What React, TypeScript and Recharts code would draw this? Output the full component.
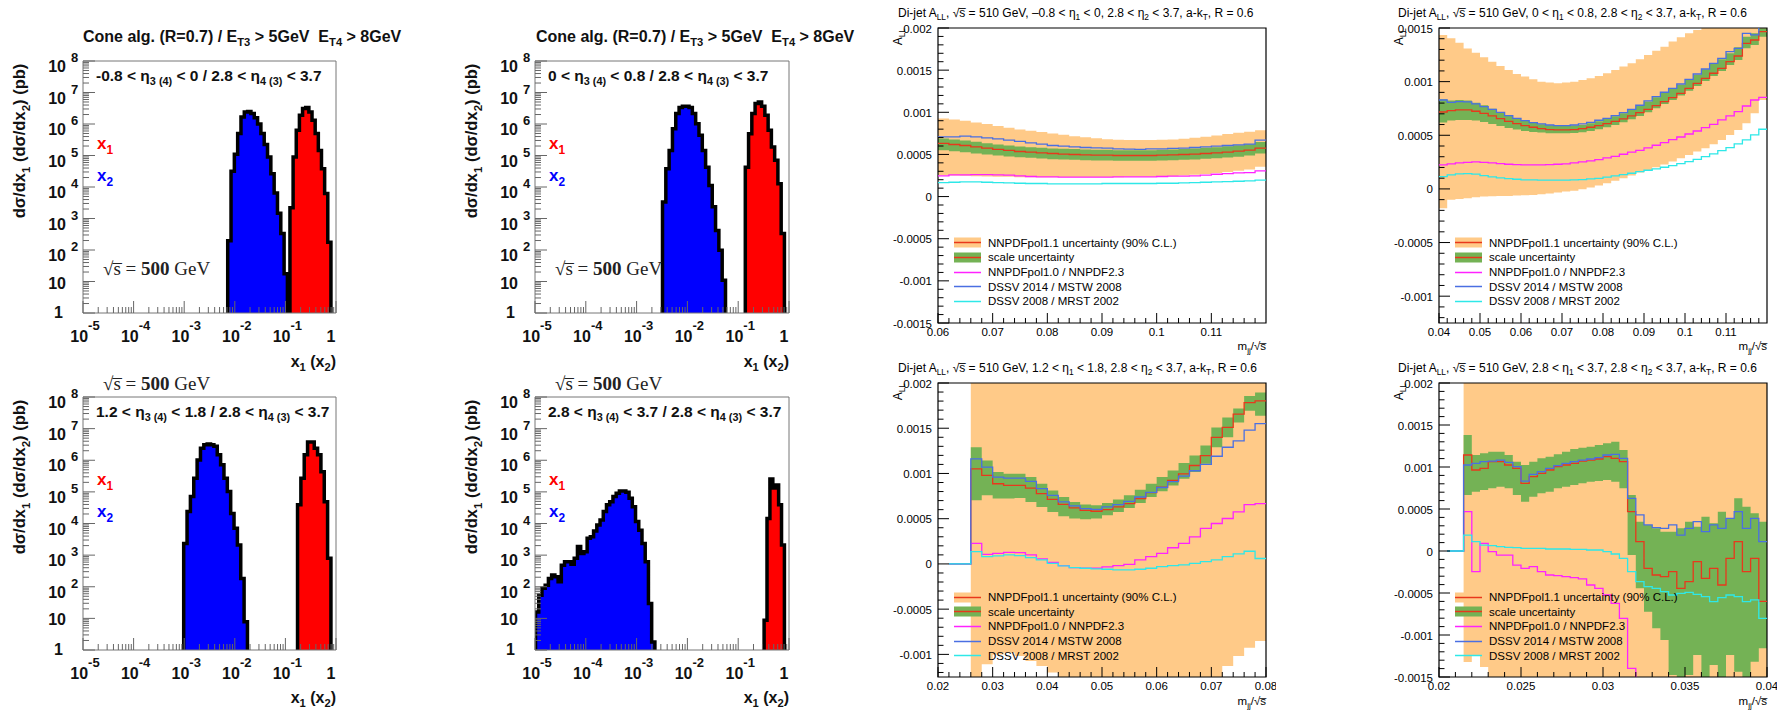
import React from "react";
import { ComposedChart, Area, Line, XAxis, YAxis, ReferenceArea, Legend } from "recharts";

const SANS = "'Liberation Sans', Arial, Helvetica, sans-serif";
const SERIF = "'Liberation Serif', 'DejaVu Serif', serif";

const ORANGE = "#ffca88";
const GREEN = "#74b255";
const RED = "#e8381c";
const MAGENTA = "#ff22ff";
const BLUE = "#4a6fe2";
const CYAN = "#2ee8e8";

// ---- x1 / x2 distributions: log10(x) edges, log10(dsigma/dx [pb]) per bin ----
const p1BlueEdges = [-2.14, -0.96];
const p1Blue = [2.29, 4.5, 5.04, 5.7, 6.22, 6.38, 6.4, 6.33, 6.2, 6.0, 5.7, 5.35, 4.95, 4.42, 3.81, 3.17, 2.52, 1.25];
const p1RedEdges = [-0.91, -0.1];
const p1Red = [3.34, 4.95, 5.8, 6.28, 6.49, 6.52, 6.38, 6.12, 5.7, 5.16, 4.58, 3.79, 2.25];

const p2BlueEdges = [-2.49, -1.25];
const p2Blue = [3.52, 4.58, 5.16, 5.85, 6.33, 6.52, 6.56, 6.56, 6.52, 6.33, 6.01, 5.64, 5.16, 4.63, 4.05, 3.37, 2.62, 1.99, 1.04];
const p2RedEdges = [-0.86, -0.09];
const p2Red = [4.63, 5.69, 6.33, 6.65, 6.7, 6.56, 6.28, 5.8, 5.27, 4.85, 4.1, 2.52];

const p3BlueEdges = [-3.01, -1.75];
const p3Blue = [3.37, 4.38, 4.85, 5.43, 6.01, 6.38, 6.49, 6.51, 6.49, 6.44, 6.17, 5.86, 5.43, 5.01, 4.32, 3.85, 3.32, 2.26, 0.89];
const p3RedEdges = [-0.76, -0.1];
const p3Red = [4.59, 5.43, 6.17, 6.58, 6.58, 6.38, 6.17, 5.64, 4.69, 2.9];

const p4BlueEdges = [-4.99, -2.64];
const p4Blue = [1.2, 1.73, 1.95, 2.05, 2.26, 2.37, 2.32, 2.16, 2.68, 2.79, 2.79, 2.71, 2.9, 3.27, 3.05, 3.11, 3.53, 3.58, 3.76, 3.95, 4.11, 4.38, 4.59, 4.69, 4.85, 4.96, 5.03, 5.03, 4.99, 4.8, 4.53, 4.06, 3.79, 3.37, 2.79, 1.47, 0.25];
const p4RedEdges = [-0.49, -0.09];
const p4Red = [0.94, 4.16, 5.41, 5.12, 5.22, 4.59, 3.32];

// ---- di-jet A_LL, values in units of 1e-4 ----
// -0.8 < eta1 < 0, bins of 0.002 from 0.06
const p5OrangeHi = [9.27, 9.15, 8.99, 8.8, 8.6, 8.36, 8.16, 7.96, 7.8, 7.65, 7.49, 7.33, 7.17, 7.05, 6.93, 6.81, 6.74, 6.7, 6.7, 6.7, 6.74, 6.77, 6.85, 6.97, 7.09, 7.25, 7.41, 7.57, 7.69, 7.88];
const p5OrangeLo = [2.54, 2.5, 2.46, 2.42, 2.38, 2.34, 2.34, 2.3, 2.3, 2.3, 2.3, 2.3, 2.3, 2.3, 2.3, 2.3, 2.3, 2.34, 2.34, 2.34, 2.38, 2.42, 2.5, 2.58, 2.69, 2.81, 2.93, 3.05, 3.21, 3.53];
const p5GreenHi = [6.89, 6.77, 6.66, 6.5, 6.34, 6.18, 6.06, 5.94, 5.86, 5.78, 5.71, 5.67, 5.63, 5.59, 5.55, 5.55, 5.51, 5.51, 5.51, 5.51, 5.55, 5.59, 5.63, 5.71, 5.78, 5.86, 5.98, 6.1, 6.22, 6.46];
const p5GreenLo = [5.51, 5.39, 5.27, 5.11, 4.99, 4.87, 4.75, 4.68, 4.6, 4.52, 4.44, 4.4, 4.36, 4.32, 4.28, 4.28, 4.24, 4.24, 4.24, 4.24, 4.28, 4.32, 4.36, 4.4, 4.48, 4.56, 4.64, 4.71, 4.87, 5.11];
const p5Red = [6.3, 6.18, 6.06, 5.9, 5.74, 5.59, 5.47, 5.35, 5.27, 5.19, 5.11, 5.03, 4.99, 4.95, 4.91, 4.91, 4.87, 4.87, 4.87, 4.87, 4.91, 4.95, 4.99, 5.03, 5.11, 5.19, 5.27, 5.39, 5.51, 5.74];
const p5Blue = [7.09, 7.09, 7.17, 7.09, 6.97, 6.85, 6.7, 6.54, 6.38, 6.22, 6.06, 5.98, 5.9, 5.82, 5.78, 5.74, 5.67, 5.63, 5.59, 5.67, 5.67, 5.71, 5.74, 5.82, 5.9, 5.98, 6.06, 6.14, 6.22, 6.7];
const p5Mag = [2.46, 2.58, 2.58, 2.61, 2.61, 2.58, 2.54, 2.46, 2.38, 2.34, 2.34, 2.3, 2.3, 2.3, 2.3, 2.3, 2.34, 2.34, 2.34, 2.34, 2.38, 2.42, 2.42, 2.46, 2.54, 2.65, 2.73, 2.81, 2.85, 3.05];
const p5Cyan = [1.66, 1.7, 1.74, 1.74, 1.7, 1.66, 1.62, 1.58, 1.55, 1.55, 1.51, 1.51, 1.51, 1.51, 1.51, 1.55, 1.55, 1.55, 1.55, 1.55, 1.58, 1.58, 1.62, 1.66, 1.7, 1.74, 1.78, 1.82, 1.86, 1.94];

// 0 < eta1 < 0.8, bins of 0.002 from 0.04
const p6OrangeHi = [14.35, 14.04, 13.63, 13.1, 12.7, 12.27, 11.86, 11.46, 11.09, 10.71, 10.47, 10.22, 10.0, 9.91, 9.84, 9.91, 10.0, 10.16, 10.31, 10.53, 10.78, 11.09, 11.4, 11.71, 12.08, 12.48, 12.89, 13.26, 13.73, 14.13, 14.5, 14.81, 16, 16, 16, 16, 16, 16, 16, 16];
const p6OrangeLo = [-1.8, -1.02, -0.93, -0.87, -0.78, -0.71, -0.68, -0.65, -0.65, -0.62, -0.59, -0.56, -0.5, -0.43, -0.34, -0.25, -0.16, -0.03, 0.12, 0.31, 0.53, 0.75, 0.99, 1.24, 1.52, 1.77, 2.02, 2.27, 2.55, 2.86, 3.17, 3.48, 3.79, 4.16, 4.57, 5.03, 5.5, 6.12, 7.05, 8.29];
const p6GreenHi = [8.35, 8.23, 8.29, 8.23, 8.04, 7.8, 7.48, 7.17, 6.86, 6.58, 6.37, 6.18, 6.02, 5.93, 5.87, 5.87, 5.9, 5.96, 6.12, 6.3, 6.52, 6.77, 7.05, 7.36, 7.73, 8.14, 8.54, 8.94, 9.32, 9.72, 10.16, 10.65, 11.15, 11.65, 12.08, 12.64, 13.2, 14.19, 14.5, 14.97];
const p6GreenLo = [6.18, 6.37, 6.43, 6.43, 6.37, 6.24, 6.06, 5.87, 5.68, 5.53, 5.4, 5.31, 5.25, 5.19, 5.19, 5.19, 5.22, 5.28, 5.4, 5.56, 5.75, 5.96, 6.21, 6.49, 6.8, 7.14, 7.52, 7.92, 8.29, 8.7, 9.16, 9.6, 10.06, 10.53, 10.99, 11.55, 12.02, 13.11, 13.42, 14.19];
const p6Red = [7.17, 7.3, 7.36, 7.36, 7.24, 7.05, 6.8, 6.55, 6.3, 6.09, 5.9, 5.75, 5.62, 5.53, 5.5, 5.5, 5.53, 5.62, 5.75, 5.9, 6.09, 6.3, 6.52, 6.8, 7.11, 7.42, 7.76, 8.14, 8.51, 8.91, 9.38, 9.84, 10.31, 10.78, 11.24, 11.86, 12.39, 13.57, 13.88, 14.66];
const p6Blue = [8.29, 8.07, 8.14, 8.11, 7.92, 7.67, 7.42, 7.14, 6.83, 6.58, 6.37, 6.18, 6.06, 5.96, 5.9, 5.9, 5.96, 6.06, 6.21, 6.4, 6.58, 6.83, 7.11, 7.42, 7.8, 8.2, 8.6, 9.01, 9.38, 9.78, 10.22, 10.71, 11.18, 11.71, 12.17, 12.8, 13.11, 14.5, 14.35, 15.2];
const p6Mag = [2.24, 2.33, 2.42, 2.48, 2.52, 2.48, 2.42, 2.36, 2.3, 2.27, 2.24, 2.24, 2.24, 2.27, 2.3, 2.33, 2.42, 2.52, 2.61, 2.73, 2.89, 3.04, 3.23, 3.42, 3.6, 3.82, 4.07, 4.32, 4.6, 4.84, 5.12, 5.4, 5.71, 6.02, 6.43, 6.8, 7.2, 7.73, 8.29, 8.54];
const p6Cyan = [1.15, 1.3, 1.4, 1.43, 1.37, 1.24, 1.12, 1.02, 0.96, 0.9, 0.84, 0.84, 0.81, 0.81, 0.81, 0.81, 0.84, 0.87, 0.93, 0.99, 1.09, 1.21, 1.34, 1.46, 1.61, 1.74, 1.86, 2.02, 2.17, 2.36, 2.55, 2.76, 3.01, 3.26, 3.57, 3.85, 4.19, 4.57, 5.03, 5.56];

// 1.2 < eta1 < 1.8, bins of 0.002 from 0.02
const N = null;
const p7OrangeHi = [N, N, N, 25, 25, 25, 25, 25, 25, 25, 25, 25, 25, 25, 25, 25, 25, 25, 25, 25, 25, 25, 25, 25, 25, 25, 25, 25, 25, 25];
const p7OrangeLo = [N, N, N, -13, -11.1, -10, -9.82, -10.18, -10.73, -11.28, -12.01, -12.75, -13, -13, -13, -13, -13, -13, -13, -13, -13, -13, -13, -13, -13, -13, -11.28, -10.18, -9.27, -8.53];
const p7GreenHi = [N, N, N, 12.89, 11.43, 10.15, 9.96, 9.96, 9.6, 8.86, 8.13, 7.4, 6.85, 6.56, 6.48, 6.74, 7.11, 7.58, 8.21, 8.86, 9.6, 10.33, 11.17, 11.98, 13.08, 15.09, 16.19, 17.18, 18.57, 18.94];
const p7GreenLo = [N, N, N, 7.03, 7.58, 7.22, 7.22, 7.29, 6.85, 6.3, 5.75, 5.27, 5.02, 4.95, 5.02, 5.38, 5.75, 6.19, 6.74, 7.4, 8.02, 8.68, 9.41, 10.15, 11.06, 12.89, 13.99, 15.64, 16.92, 16.37];
const p7Red = [N, 0, 0, 10.51, 9.78, 8.86, 8.68, 8.68, 8.39, 7.77, 7.14, 6.59, 6.19, 5.93, 5.82, 6.01, 6.3, 6.67, 7.22, 7.88, 8.5, 9.23, 9.96, 10.88, 11.98, 13.99, 15.09, 16.56, 17.84, 18.02];
const p7Blue = [N, 0, 0, 11.61, 10.7, 9.6, 9.49, 9.49, 9.12, 8.32, 7.58, 6.85, 6.41, 6.12, 6.04, 6.3, 6.56, 6.92, 7.4, 7.9, 8.45, 9.1, 9.7, 10.3, 11.0, 11.9, 12.9, 13.6, 14.8, 15.5];
const p7Mag = [N, 0, 0, 2.27, 1.06, 1.17, 1.28, 1.25, 0.99, 0.55, 0.18, -0.18, -0.4, -0.48, -0.48, -0.33, -0.18, -0.04, 0.44, 0.81, 1.17, 1.79, 2.27, 3.0, 3.92, 4.47, 5.02, 5.75, 6.56, 6.67];
const p7Cyan = [N, 0, 0, 1.36, 0.81, 0.88, 0.99, 0.92, 0.7, 0.44, 0.07, -0.22, -0.4, -0.48, -0.55, -0.59, -0.66, -0.66, -0.59, -0.48, -0.29, -0.18, -0.11, 0.07, 0.26, 0.44, 0.81, 1.1, 1.4, 0.6];

// 2.8 < eta1 < 3.7, bins of 0.0005 from 0.02
const p8OrangeHi = [N, N, N, 25, 25, 25, 25, 25, 25, 25, 25, 25, 25, 25, 25, 25, 25, 25, 25, 25, 25, 25, 25, 25, 25, 25, 25, 25, 25, 25, 25, 25, 25, 25, 25, 25, 25, 25, 25, 25];
const p8OrangeLo = [N, N, N, -13.2, -12.4, -13.8, -16, -16, -16, -16, -16, -16, -16, -16, -16, -16, -16, -16, -16, -16, -16, -16, -16, -16, -16, -16, -16, -16, -16, -16, -16, -16, -16, -16, -16, -16, -16, -16, -16, -16];
const p8GreenHi = [N, N, N, 13.8, 11.43, 11.63, 11.83, 11.83, 11.43, 10.63, 10.24, 10.63, 11.03, 11.23, 11.51, 11.83, 12.14, 12.3, 12.42, 12.62, 12.82, 13.02, 12.02, 6.67, 3.49, 3.1, 2.7, 2.3, 2.3, 2.7, 3.49, 2.9, 4.09, 3.29, 4.68, 3.89, 6.27, 5.28, 4.48, 3.49];
const p8GreenLo = [N, N, N, 6.67, 7.06, 7.26, 7.46, 7.66, 7.46, 6.67, 5.87, 6.47, 6.87, 7.06, 7.46, 7.66, 7.86, 8.06, 8.25, 8.33, 8.45, 8.25, 7.46, -0.48, -4.44, -7.22, -9.21, -10.6, -14.76, -16, -14.76, -12.38, -16, -13.57, -16, -12.38, -14.37, -16, -13.17, -11.59];
const p8Red = [N, 0, 0, 11.43, 9.64, 9.84, 10.63, 10.63, 10.24, 9.84, 8.06, 8.85, 9.25, 9.64, 10.04, 10.24, 10.44, 10.71, 10.83, 10.95, 11.23, 11.03, 10.63, 4.68, 1.11, -2.06, -2.86, -3.06, -2.46, -4.44, -3.65, -1.27, -3.25, -2.06, -4.05, -0.87, 1.11, -2.46, -0.87, -6];
const p8Blue = [N, 0, 0, 10.24, 10.44, 10.63, 10.71, 10.83, 10.56, 10.04, 8.33, 9.13, 9.44, 9.84, 10.16, 10.44, 10.63, 10.83, 10.95, 11.11, 11.43, 11.51, 11.03, 6.27, 4.29, 3.1, 2.78, 2.7, 3.1, 1.9, 2.7, 3.49, 2.3, 3.1, 2.7, 3.89, 4.68, 2.7, 3.89, 1.11];
const p8Mag = [N, 0, 0, 4.68, -2.46, 0.91, -0.08, -0.48, -0.48, -1.67, -2.06, -1.87, -2.46, -2.86, -2.94, -3.06, -3.17, -3.33, -4.05, -4.44, -5.24, -6.23, -8.02, -13.97, -20, N, N, N, N, N, N, N, N, N, N, N, N, N, N, N];
const p8Cyan = [N, 0, 0, 1.9, 1.11, 0.71, 0.63, 0.52, 0.44, 0.4, 0.32, 0.32, 0.32, 0.24, 0.24, 0.24, 0.2, 0.2, 0.12, 0.12, -0.08, -0.36, -0.87, -2.46, -3.65, -4.25, -4.44, -4.84, -5.24, -5.04, -4.92, -5.16, -5.44, -6.03, -5.56, -5.24, -5.44, -6.03, -5.83, -8.02];

const legendItems = [
  { label: "NNPDFpol1.1 uncertainty (90% C.L.)", band: ORANGE, line: RED },
  { label: "scale uncertainty", band: GREEN, line: RED },
  { label: "NNPDFpol1.0 / NNPDF2.3", line: MAGENTA },
  { label: "DSSV 2014 / MSTW 2008", line: BLUE },
  { label: "DSSV 2008 / MRST 2002", line: CYAN },
];

// ---------- helpers ----------
type Vals = (number | null)[];

function histRows(edges: number[], vals: number[], key: string) {
  const w = (edges[1] - edges[0]) / vals.length;
  const rows: any[] = [{ x: edges[0], [key]: 0 }];
  vals.forEach((v, i) => rows.push({ x: edges[0] + i * w, [key]: v }));
  rows.push({ x: edges[1], [key]: 0 });
  return rows;
}

function asymRows(x0: number, w: number, s: { oLo: Vals; oHi: Vals; gLo: Vals; gHi: Vals; red: Vals; mag: Vals; blue: Vals; cyan: Vals }) {
  const n = s.red.length;
  const rows: any[] = [];
  for (let i = 0; i <= n; i++) {
    const j = Math.min(i, n - 1);
    rows.push({
      x: +(x0 + i * w).toFixed(6),
      orange: s.oLo[j] == null ? null : [s.oLo[j], s.oHi[j]],
      green: s.gLo[j] == null ? null : [s.gLo[j], s.gHi[j]],
      red: s.red[j],
      mag: s.mag[j],
      blue: s.blue[j],
      cyan: s.cyan[j],
    });
  }
  return rows;
}

function logTicks(from: number, to: number) {
  const t: number[] = [];
  for (let n = from; n < to; n++) {
    t.push(n);
    for (let k = 2; k <= 9; k++) t.push(n + Math.log10(k));
  }
  t.push(to);
  return t;
}

function linTicks(a: number, b: number, step: number) {
  const t: number[] = [];
  const n = Math.floor((b - a) / step + 1e-6);
  for (let i = 0; i <= n; i++) t.push(+(a + i * step).toFixed(6));
  return t;
}

const isInt = (v: number) => Math.abs(v - Math.round(v)) < 1e-6;

const bold = { fontFamily: SANS, fontWeight: 700 } as const;

const LogXTick = (props: any) => {
  const { x, y, payload } = props;
  const v = payload.value;
  const major = isInt(v);
  return (
    <g>
      <line x1={x} x2={x} y1={y} y2={y - (major ? 12 : 6)} stroke="#666" />
      {major &&
        (Math.round(v) === 0 ? (
          <text x={x - 5} y={y + 29} textAnchor="middle" fontSize={16} style={bold} fill="#111">1</text>
        ) : (
          <text x={x + 2} y={y + 29} textAnchor="middle" fontSize={16} style={bold} fill="#111">
            10<tspan dy={-12} fontSize={13}>{Math.round(v)}</tspan>
          </text>
        ))}
    </g>
  );
};

const LogYTick = (props: any) => {
  const { x, y, payload } = props;
  const v = payload.value;
  const major = isInt(v);
  const n = Math.round(v);
  return (
    <g>
      <line x1={x} x2={x + (major ? 12 : 6)} y1={y} y2={y} stroke="#666" />
      {major && n === 0 && (
        <text x={x - 20} y={y + 5} textAnchor="end" fontSize={16} style={bold} fill="#111">1</text>
      )}
      {major && n === 1 && (
        <text x={x - 17} y={y + 7} textAnchor="end" fontSize={16} style={bold} fill="#111">10</text>
      )}
      {major && n > 1 && (
        <>
          <text x={x - 17} y={y + 11} textAnchor="end" fontSize={16} style={bold} fill="#111">10</text>
          <text x={x - 12} y={y + 1} fontSize={13} style={bold} fill="#111">{n}</text>
        </>
      )}
    </g>
  );
};

const makeLinXTick = (majorStep: number) => (props: any) => {
  const { x, y, payload } = props;
  const v = payload.value;
  const major = isInt(v / majorStep);
  return (
    <g>
      <line x1={x} x2={x} y1={y} y2={y - (major ? 10 : 5)} stroke="#000" />
      {major && (
        <text x={x} y={y + 13} textAnchor="middle" fontSize={11.5} fontFamily={SANS} fill="#000">
          {String(+v.toFixed(4))}
        </text>
      )}
    </g>
  );
};

const LinYTick = (props: any) => {
  const { x, y, payload } = props;
  const v = Math.round(payload.value);
  const major = v % 5 === 0;
  return (
    <g>
      <line x1={x} x2={x + (major ? 11 : 5.5)} y1={y} y2={y} stroke="#000" />
      {major && (
        <text x={x - 6} y={y + 4.5} textAnchor="end" fontSize={11.5} fontFamily={SANS} fill="#000">
          {String(+(v / 1e4).toFixed(5))}
        </text>
      )}
    </g>
  );
};

// tiny markup: _{sub}  ^{sup}  #{overlined}  *{bold}
function Rich({ s, size }: { s: string; size: number }) {
  const parts = s.split(/([_^#*]\{[^}]*\})/).filter((p) => p !== "");
  let cur = 0;
  return (
    <>
      {parts.map((p, i) => {
        let target = 0;
        let txt = p;
        let fs: number | undefined;
        let fw: number | undefined;
        if (/^[_^]\{/.test(p)) {
          target = p[0] === "_" ? size * 0.28 : -size * 0.45;
          txt = p.slice(2, -1);
          fs = size * 0.7;
        } else if (p.startsWith("#{")) {
          txt = Array.from(p.slice(2, -1)).map((c) => c + "\u0305").join("");
        } else if (p.startsWith("*{")) {
          txt = p.slice(2, -1);
          fw = 700;
        }
        const dy = target - cur;
        cur = target;
        return (
          <tspan key={i} dy={dy} fontSize={fs} fontWeight={fw}>
            {txt}
          </tspan>
        );
      })}
    </>
  );
}

// ---------- panels ----------
type XPanelProps = { px: number; py: number; pw: number; ph: number; blueEdges: number[]; blue: number[]; redEdges: number[]; red: number[] };

function XPanel(p: XPanelProps) {
  const L = 80, T = 10, R = 10, B = 40;
  const rows = [...histRows(p.blueEdges, p.blue, "b"), ...histRows(p.redEdges, p.red, "r")];
  return (
    <div style={{ position: "absolute", left: p.px - L, top: p.py - T }}>
      <ComposedChart width={p.pw + L + R} height={p.ph + T + B} data={rows} margin={{ top: T, right: R, bottom: 0, left: 0 }}>
        <XAxis dataKey="x" type="number" domain={[-5, 0]} ticks={logTicks(-5, 0)} interval={0} tick={LogXTick}
          tickLine={false} axisLine={false} tickSize={0} tickMargin={0} height={B} allowDataOverflow />
        <YAxis type="number" domain={[0, 8]} ticks={logTicks(0, 8)} interval={0} tick={LogYTick}
          tickLine={false} axisLine={false} tickSize={0} tickMargin={0} width={L} allowDataOverflow />
        <Area dataKey="b" type="stepAfter" fill="#0000ff" fillOpacity={1} stroke="#000" strokeWidth={3.5}
          connectNulls isAnimationActive={false} activeDot={false} />
        <Area dataKey="r" type="stepAfter" fill="#ff0000" fillOpacity={1} stroke="#000" strokeWidth={3.5}
          connectNulls isAnimationActive={false} activeDot={false} />
        <ReferenceArea x1={-5} x2={0} y1={0} y2={8} fill="none" stroke="#777" strokeWidth={1} />
      </ComposedChart>
    </div>
  );
}

type AsymProps = {
  px: number; py: number; pw: number; ph: number;
  x0: number; xMax: number; xTickMax: number; xMajor: number; xMinor: number;
  yMin: number; yMax: number;
  rows: any[];
};

const AsymLegend = () => (
  <div style={{ fontFamily: SANS, fontSize: 11.5, color: "#000" }}>
    {legendItems.map((it) => (
      <div key={it.label} style={{ display: "flex", alignItems: "center", height: 14.7, whiteSpace: "nowrap" }}>
        <svg width={27} height={11} style={{ marginRight: 7, flex: "none" }}>
          {it.band && <rect x={0} y={0.5} width={27} height={10} fill={it.band} />}
          <line x1={0} x2={27} y1={5.5} y2={5.5} stroke={it.line} strokeWidth={1.5} />
        </svg>
        <span>{it.label}</span>
      </div>
    ))}
  </div>
);

function AsymPanel(p: AsymProps) {
  const L = 60, T = 10, R = 10, B = 30;
  const lineProps = { type: "stepAfter" as const, dot: false, activeDot: false, isAnimationActive: false, strokeWidth: 1.3 };
  return (
    <div style={{ position: "absolute", left: p.px - L, top: p.py - T }}>
      <ComposedChart width={p.pw + L + R} height={p.ph + T + B} data={p.rows} margin={{ top: T, right: R, bottom: 0, left: 0 }}>
        <Area dataKey="orange" type="stepAfter" fill={ORANGE} fillOpacity={1} stroke="none" isAnimationActive={false} activeDot={false} />
        <Area dataKey="green" type="stepAfter" fill={GREEN} fillOpacity={1} stroke="none" isAnimationActive={false} activeDot={false} />
        <Line dataKey="red" stroke={RED} {...lineProps} />
        <Line dataKey="mag" stroke={MAGENTA} {...lineProps} />
        <Line dataKey="blue" stroke={BLUE} {...lineProps} />
        <Line dataKey="cyan" stroke={CYAN} {...lineProps} />
        <XAxis dataKey="x" type="number" domain={[p.x0, p.xMax]} ticks={linTicks(p.x0, p.xTickMax, p.xMinor)} interval={0}
          tick={makeLinXTick(p.xMajor)} tickLine={false} axisLine={false} tickSize={0} tickMargin={0} height={B} allowDataOverflow />
        <YAxis type="number" domain={[p.yMin, p.yMax]} ticks={linTicks(Math.ceil(p.yMin), p.yMax, 1)} interval={0}
          tick={LinYTick} tickLine={false} axisLine={false} tickSize={0} tickMargin={0} width={L} allowDataOverflow />
        <ReferenceArea x1={p.x0} x2={p.xMax} y1={p.yMin} y2={p.yMax} fill="none" stroke="#000" strokeWidth={1.2} />
        <Legend layout="horizontal" verticalAlign="middle" align="center" content={() => <AsymLegend />}
          wrapperStyle={{ left: 76, top: p.ph * 0.72 + T - 5, width: 260 }} />
      </ComposedChart>
    </div>
  );
}

const rows5 = asymRows(0.06, 0.002, { oLo: p5OrangeLo, oHi: p5OrangeHi, gLo: p5GreenLo, gHi: p5GreenHi, red: p5Red, mag: p5Mag, blue: p5Blue, cyan: p5Cyan });
const rows6 = asymRows(0.04, 0.002, { oLo: p6OrangeLo, oHi: p6OrangeHi, gLo: p6GreenLo, gHi: p6GreenHi, red: p6Red, mag: p6Mag, blue: p6Blue, cyan: p6Cyan });
const rows7 = asymRows(0.02, 0.002, { oLo: p7OrangeLo, oHi: p7OrangeHi, gLo: p7GreenLo, gHi: p7GreenHi, red: p7Red, mag: p7Mag, blue: p7Blue, cyan: p7Cyan });
const rows8 = asymRows(0.02, 0.0005, { oLo: p8OrangeLo, oHi: p8OrangeHi, gLo: p8GreenLo, gHi: p8GreenHi, red: p8Red, mag: p8Mag, blue: p8Blue, cyan: p8Cyan });

const xPanels = [
  { px: 83, py: 61, eta: "-0.8 < η_{3 (4)} < 0 / 2.8 < η_{4 (3)} < 3.7" },
  { px: 535, py: 61, eta: "0 < η_{3 (4)} < 0.8 / 2.8 < η_{4 (3)} < 3.7" },
  { px: 83, py: 397, eta: "1.2 < η_{3 (4)} < 1.8 / 2.8 < η_{4 (3)} < 3.7" },
  { px: 535, py: 397, eta: "2.8 < η_{3 (4)} < 3.7 / 2.8 < η_{4 (3)} < 3.7" },
];

const asymTitles = [
  { x: 898, y: 17, s: "Di-jet A_{LL}, √#{s} = 510 GeV, –0.8 < η_{1} < 0, 2.8 < η_{2} < 3.7, a-k_{T}, R = 0.6" },
  { x: 1398, y: 17, s: "Di-jet A_{LL}, √#{s} = 510 GeV, 0 < η_{1} < 0.8, 2.8 < η_{2} < 3.7, a-k_{T}, R = 0.6" },
  { x: 898, y: 372, s: "Di-jet A_{LL}, √#{s} = 510 GeV, 1.2 < η_{1} < 1.8, 2.8 < η_{2} < 3.7, a-k_{T}, R = 0.6" },
  { x: 1398, y: 372, s: "Di-jet A_{LL}, √#{s} = 510 GeV, 2.8 < η_{1} < 3.7, 2.8 < η_{2} < 3.7, a-k_{T}, R = 0.6" },
];
const asymFrames = [
  { px: 938, py: 28 },
  { px: 1439, py: 28 },
  { px: 938, py: 383 },
  { px: 1439, py: 383 },
];

export default function App() {
  return (
    <div style={{ position: "absolute", left: 0, top: 0, width: 1786, height: 711, background: "#fff", overflow: "hidden" }}>
      <XPanel px={83} py={61} pw={253} ph={252} blueEdges={p1BlueEdges} blue={p1Blue} redEdges={p1RedEdges} red={p1Red} />
      <XPanel px={535} py={61} pw={254} ph={252} blueEdges={p2BlueEdges} blue={p2Blue} redEdges={p2RedEdges} red={p2Red} />
      <XPanel px={83} py={397} pw={253} ph={253} blueEdges={p3BlueEdges} blue={p3Blue} redEdges={p3RedEdges} red={p3Red} />
      <XPanel px={535} py={397} pw={254} ph={253} blueEdges={p4BlueEdges} blue={p4Blue} redEdges={p4RedEdges} red={p4Red} />

      <AsymPanel px={938} py={28} pw={328} ph={295} x0={0.06} xMax={0.12} xTickMax={0.119} xMajor={0.01} xMinor={0.002} yMin={-15} yMax={20} rows={rows5} />
      <AsymPanel px={1439} py={28} pw={328} ph={295} x0={0.04} xMax={0.12} xTickMax={0.119} xMajor={0.01} xMinor={0.002} yMin={-12.5} yMax={15} rows={rows6} />
      <AsymPanel px={938} py={383} pw={328} ph={294} x0={0.02} xMax={0.08} xTickMax={0.08} xMajor={0.01} xMinor={0.002} yMin={-12.5} yMax={20} rows={rows7} />
      <AsymPanel px={1439} py={383} pw={328} ph={294} x0={0.02} xMax={0.04} xTickMax={0.04} xMajor={0.005} xMinor={0.001} yMin={-15} yMax={20} rows={rows8} />

      <svg width={1786} height={711} style={{ position: "absolute", left: 0, top: 0, pointerEvents: "none" }}>
        {[83, 536].map((x) => (
          <text key={"t" + x} x={x} y={41.5} fontSize={16} style={{ ...bold, whiteSpace: "pre" }} fill="#111">
            <Rich s={"Cone alg. (R=0.7) / E_{T3} > 5GeV  E_{T4} > 8GeV"} size={16} />
          </text>
        ))}
        {xPanels.map((p, i) => {
          const top = i < 2;
          const ox = p.px;
          return (
            <g key={"xp" + i}>
              <text x={ox + 13} y={p.py + 20} fontSize={15.5} style={{ ...bold, whiteSpace: "pre" }} fill="#111">
                <Rich s={p.eta} size={15.5} />
              </text>
              <text x={ox + 14} y={p.py + 88} fontSize={17} style={bold} fill="#ff0000">
                <Rich s="x_{1}" size={17} />
              </text>
              <text x={ox + 14} y={p.py + 120} fontSize={17} style={bold} fill="#0000ff">
                <Rich s="x_{2}" size={17} />
              </text>
              <text x={ox + 20} y={top ? p.py + 214 : p.py - 7} fontSize={19} fontFamily={SERIF} fill="#222" style={{ whiteSpace: "pre" }}>
                <Rich s="√#{s} = *{500} GeV" size={19} />
              </text>
              <text transform={`translate(${ox - 58}, ${p.py + 80}) rotate(-90)`} textAnchor="middle" fontSize={16.5} style={{ ...bold, whiteSpace: "pre" }} fill="#111">
                <Rich s="dσ/dx_{1} (dσ/dx_{2}) (pb)" size={16.5} />
              </text>
              <text x={ox + (i % 2 === 0 ? 253 : 254)} y={p.py + 306} textAnchor="end" fontSize={16} style={{ ...bold, whiteSpace: "pre" }} fill="#111">
                <Rich s="x_{1} (x_{2})" size={16} />
              </text>
            </g>
          );
        })}
        {asymTitles.map((t, i) => (
          <text key={"at" + i} x={t.x} y={t.y} fontSize={12} fontFamily={SANS} fill="#000" style={{ whiteSpace: "pre" }}>
            <Rich s={t.s} size={12} />
          </text>
        ))}
        {asymFrames.map((f, i) => (
          <g key={"af" + i}>
            <text transform={`translate(${f.px - 36}, ${f.py}) rotate(-90)`} textAnchor="end" fontSize={12} fontFamily={SANS} fill="#000">
              <Rich s="A_{LL}" size={12} />
            </text>
            <text x={f.px + 328} y={f.py + 322} textAnchor="end" fontSize={11.5} fontFamily={SANS} fill="#000" style={{ whiteSpace: "pre" }}>
              <Rich s="m_{jj}/√#{s}" size={11.5} />
            </text>
          </g>
        ))}
      </svg>
    </div>
  );
}
